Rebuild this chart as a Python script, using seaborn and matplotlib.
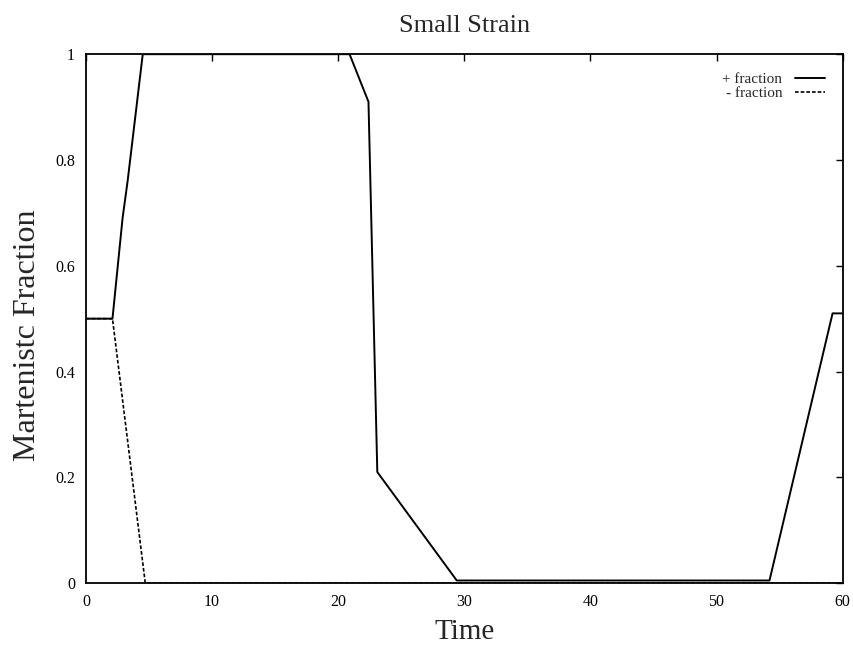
import matplotlib
matplotlib.use("Agg")
import matplotlib.pyplot as plt
import pandas as pd
import seaborn as sns
from matplotlib.ticker import FuncFormatter

# "+ fraction" (solid) and "- fraction" (dashed)
plus_time = [0.0, 2.1, 2.9, 3.3, 4.5, 20.9, 22.4, 23.1, 29.4, 54.2, 59.2, 60.0]
plus_frac = [0.5, 0.5, 0.69, 0.76, 1.0, 1.0, 0.91, 0.21, 0.005, 0.005, 0.51, 0.51]

minus_time = [0.0, 2.1, 4.7, 60.0]
minus_frac = [0.5, 0.5, 0.0, 0.0]

X_TICKS = [0, 10, 20, 30, 40, 50, 60]
Y_TICKS = [0, 0.2, 0.4, 0.6, 0.8, 1.0]

sns.set_style("white")
plt.rcParams["font.family"] = ["Liberation Serif", "DejaVu Serif"]

plus_df = pd.DataFrame({"time": plus_time, "frac": plus_frac})
minus_df = pd.DataFrame({"time": minus_time, "frac": minus_frac})

fig = plt.figure(figsize=(8.54, 6.53), dpi=100)
ax = fig.add_axes([0.1007, 0.107, 0.886, 0.81])

sns.lineplot(data=plus_df, x="time", y="frac", ax=ax, color="black",
             linewidth=1.4, estimator=None, sort=False, label="+ fraction")
sns.lineplot(data=minus_df, x="time", y="frac", ax=ax, color="black",
             linewidth=1.2, estimator=None, sort=False, label="- fraction",
             dashes=False)
ax.lines[1].set_dashes((2.2, 1.2))

ax.set_xlim(0, 60)
ax.set_ylim(0, 1)
ax.set_xticks(X_TICKS)
ax.set_yticks(Y_TICKS)
ax.yaxis.set_major_formatter(FuncFormatter(lambda v, _: f"{v:g}"))
ax.tick_params(direction="in", length=5, width=1, top=True, right=True,
               labelsize=11.5, colors="black", pad=8)
for s in ax.spines.values():
    s.set_color("black")
    s.set_linewidth(1.3)

ax.set_title("Small Strain", fontsize=19, pad=16)
ax.set_xlabel("Time", fontsize=21, labelpad=6)
ax.set_ylabel("Martenistc Fraction", fontsize=23)
ax.yaxis.set_label_coords(-0.058, 0.468)

leg = ax.legend(loc="upper right", bbox_to_anchor=(0.977, 0.965),
                frameon=False, markerfirst=False, fontsize=11,
                handlelength=2.0, handletextpad=0.8, labelspacing=0.0,
                borderaxespad=0.0, borderpad=0.0)

fig.savefig("out.png", dpi=100)
